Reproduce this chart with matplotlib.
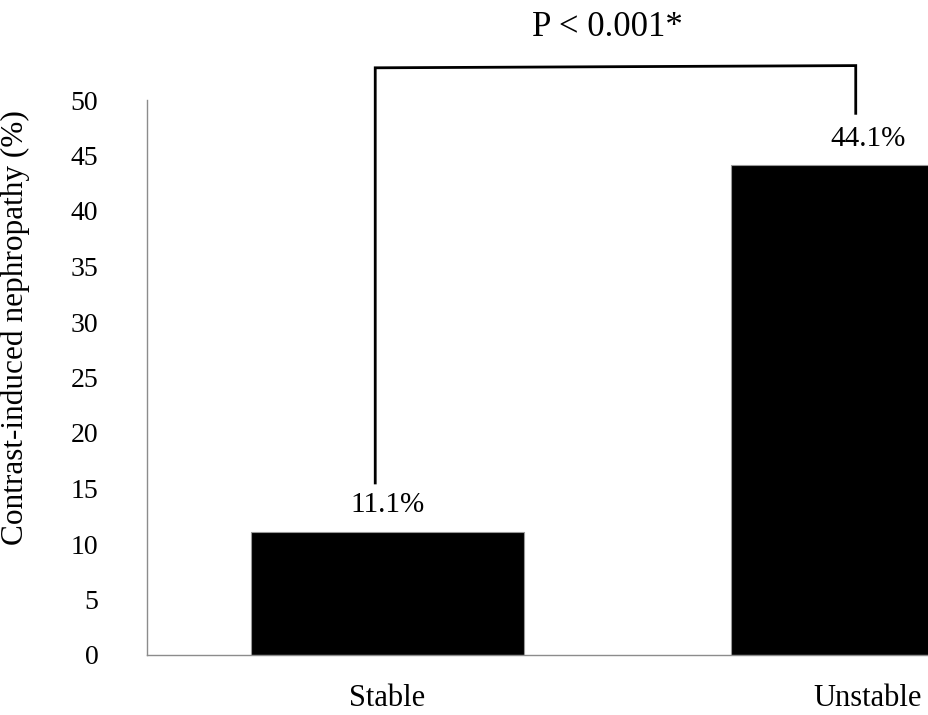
import matplotlib
matplotlib.use("Agg")
import matplotlib.pyplot as plt

plt.rcParams['font.family'] = ['Liberation Serif', 'DejaVu Serif']

groups = ['Stable', 'Unstable']
cin_rate = [11.1, 44.1]
rate_labels = ['11.1%', '44.1%']
y_ticks = [0, 5, 10, 15, 20, 25, 30, 35, 40, 45, 50]

# bracket ends (data units) and p-value text
bracket_left_low = 15.5
bracket_right_low = 48.8
bracket_top = [52.9, 53.1]
p_text = 'P < 0.001*'

W, H = 929, 715
fig = plt.figure(figsize=(W / 100, H / 100), dpi=100)
# axes runs past the right edge, the original picture is cropped there
ax = fig.add_axes([147 / W, (H - 655) / H, (1108 - 147) / W, 555 / H])

x = list(range(len(groups)))
ax.bar(x, cin_rate, width=0.568, color='black', edgecolor='#999999', linewidth=0.8)
ax.set_xlim(-0.5, 1.5)
ax.set_ylim(0, 50)
ax.set_yticks(y_ticks)
ax.set_xticks(x)
ax.set_xticklabels(groups)

for s in ['top', 'right']:
    ax.spines[s].set_visible(False)
for s in ['left', 'bottom']:
    ax.spines[s].set_color('#8c8c8c')
    ax.spines[s].set_linewidth(1.0)

ax.tick_params(axis='y', length=0, pad=35, labelsize=20)
ax.tick_params(axis='x', length=0, pad=21, labelsize=22)
ax.set_ylabel('Contrast-induced nephropathy (%)', fontsize=22.5)
ax.yaxis.set_label_coords(-0.122, 0.59)

for xi, v, lab in zip(x, cin_rate, rate_labels):
    ax.annotate(lab, (xi, v), xytext=(0, 14), textcoords='offset points',
                ha='center', va='baseline', fontsize=21)

bx = [-0.025, -0.025, 0.975, 0.975]
by = [bracket_left_low, bracket_top[0], bracket_top[1], bracket_right_low]
ax.plot(bx, by, color='black', linewidth=2.0, clip_on=False,
        solid_joinstyle='miter')

fig.text(607 / W, 1 - 36 / H, p_text, ha='center', va='baseline', fontsize=25)

fig.savefig('out.png', dpi=100)
